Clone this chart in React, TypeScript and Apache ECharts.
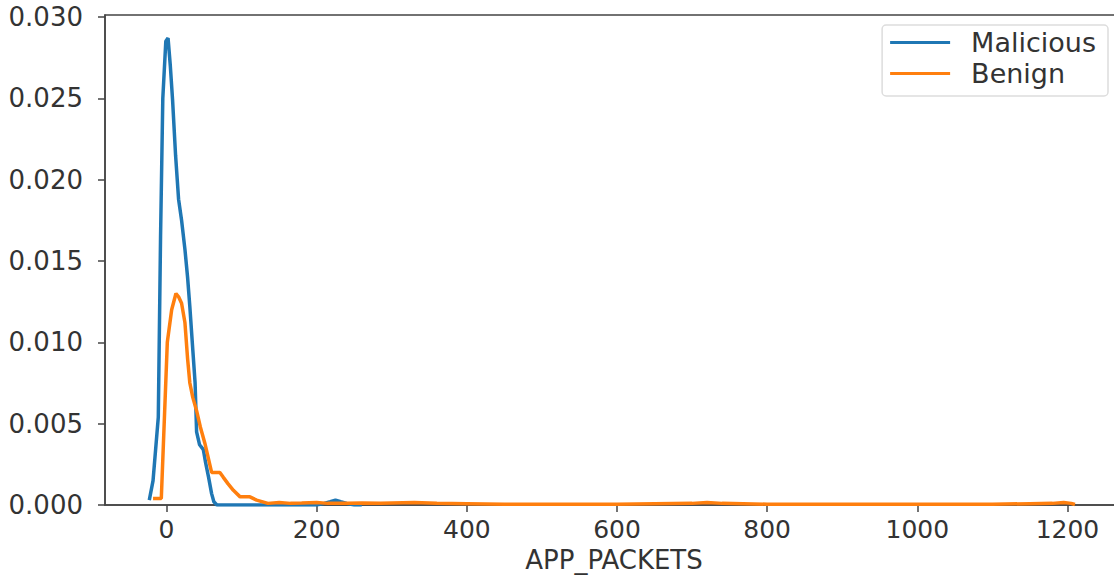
import { useEffect, useRef } from 'react';
import * as echarts from 'echarts';

const maliciousX = [-23, -18, -11, -8, -5, -1, 2, 5, 8, 12, 16, 20, 24.5, 28, 31, 35, 38, 40, 44, 49, 52, 56, 60, 63, 67, 100, 150, 200, 210, 218, 225, 232, 240, 250, 260];
const maliciousY = [0.0003, 0.0015, 0.0054, 0.0165, 0.025, 0.0285, 0.0287, 0.027, 0.0249, 0.0215, 0.0188, 0.0175, 0.0157, 0.014, 0.0122, 0.0095, 0.0075, 0.0045, 0.0037, 0.0034, 0.0026, 0.0017, 0.0007, 0.0002, 0, 0, 0, 0, 0.0001, 0.0002, 0.0003, 0.0002, 0.0001, 0, 0];

const benignX = [-18, -7, 1, 6.8, 12.5, 16, 20, 24.5, 28, 31, 35, 40, 45, 51, 56, 60, 66, 71, 75.6, 82, 89, 98, 111, 120, 135, 150, 165, 180, 200, 215, 240, 260, 285, 300, 330, 360, 400, 450, 500, 600, 700, 720, 740, 800, 900, 1000, 1100, 1150, 1180, 1195, 1205, 1210];
const benignY = [0.0004, 0.0004, 0.01, 0.012, 0.013, 0.0128, 0.0124, 0.0112, 0.009, 0.0075, 0.0066, 0.0058, 0.0048, 0.0038, 0.0028, 0.002, 0.002, 0.002, 0.0017, 0.0013, 0.0009, 0.0005, 0.0005, 0.0003, 0.0001, 0.00015, 0.0001, 0.00012, 0.00015, 0.0001, 0.0001, 0.00012, 0.0001, 0.00012, 0.00015, 0.0001, 0.00008, 0.00005, 0.00005, 0.00005, 0.0001, 0.00015, 0.0001, 0.00005, 0.00005, 0.00005, 0.00005, 0.00008, 0.0001, 0.00015, 0.0001, 0.00003];

const xTicks = [0, 200, 400, 600, 800, 1000, 1200];
const yTicks = [0, 0.005, 0.01, 0.015, 0.02, 0.025, 0.03];

const FONT = 'DejaVu Sans';
const TEXT = '#333';
const SPINE = '#444';

export default function App() {
  const ref = useRef<HTMLDivElement>(null);
  useEffect(() => {
    const chart = echarts.init(ref.current!, null, { renderer: 'svg' });
    chart.setOption({
      animation: false,
      backgroundColor: '#fff',
      grid: {
        left: 105,
        top: 15,
        width: 1018,
        height: 490,
        containLabel: false,
        outerBoundsMode: 'none',
        show: true,
        borderColor: SPINE,
        borderWidth: 1.5,
        backgroundColor: 'transparent',
      },
      legend: {
        orient: 'vertical',
        right: 6,
        top: 25,
        padding: [4, 12, 9, 8],
        itemGap: 4,
        itemWidth: 60,
        itemHeight: 3,
        icon: 'rect',
        borderColor: '#ddd',
        borderWidth: 1.5,
        borderRadius: 4,
        backgroundColor: 'rgba(255,255,255,0.85)',
        textStyle: { fontFamily: FONT, fontSize: 27, color: TEXT, padding: [0, 0, 0, 16] },
        data: ['Malicious', 'Benign'],
      },
      xAxis: {
        type: 'value',
        min: -82,
        max: 1274,
        name: 'APP_PACKETS',
        nameLocation: 'middle',
        nameGap: 39,
        nameTextStyle: { fontFamily: FONT, fontSize: 26, color: TEXT },
        axisLine: { show: true, onZero: false, lineStyle: { color: SPINE, width: 1.5 } },
        axisTick: { show: true, length: 7, customValues: xTicks, lineStyle: { color: SPINE, width: 1.5 } },
        axisLabel: {
          customValues: xTicks,
          margin: 12,
          fontFamily: FONT,
          fontSize: 25,
          color: TEXT,
          formatter: (v: number) => String(v),
        },
        splitLine: { show: false },
      },
      yAxis: {
        type: 'value',
        min: 0,
        max: 0.03012,
        axisLine: { show: true, onZero: false, lineStyle: { color: SPINE, width: 1.5 } },
        axisTick: { show: true, length: 7, customValues: yTicks, lineStyle: { color: SPINE, width: 1.5 } },
        axisLabel: {
          customValues: yTicks,
          margin: 22,
          fontFamily: FONT,
          fontSize: 26,
          color: TEXT,
          formatter: (v: number) => v.toFixed(3),
        },
        splitLine: { show: false },
      },
      series: [
        {
          name: 'Malicious',
          type: 'line',
          symbol: 'none',
          color: '#1f77b4',
          lineStyle: { width: 3.5, color: '#1f77b4' },
          data: maliciousX.map((x, i) => [x, maliciousY[i]]),
        },
        {
          name: 'Benign',
          type: 'line',
          symbol: 'none',
          color: '#ff7f0e',
          lineStyle: { width: 3.5, color: '#ff7f0e' },
          data: benignX.map((x, i) => [x, benignY[i]]),
        },
      ],
    });
    return () => chart.dispose();
  }, []);
  return (
    <div
      ref={ref}
      style={{ position: 'fixed', left: 0, top: 0, width: 1114, height: 576, background: '#fff' }}
    />
  );
}
